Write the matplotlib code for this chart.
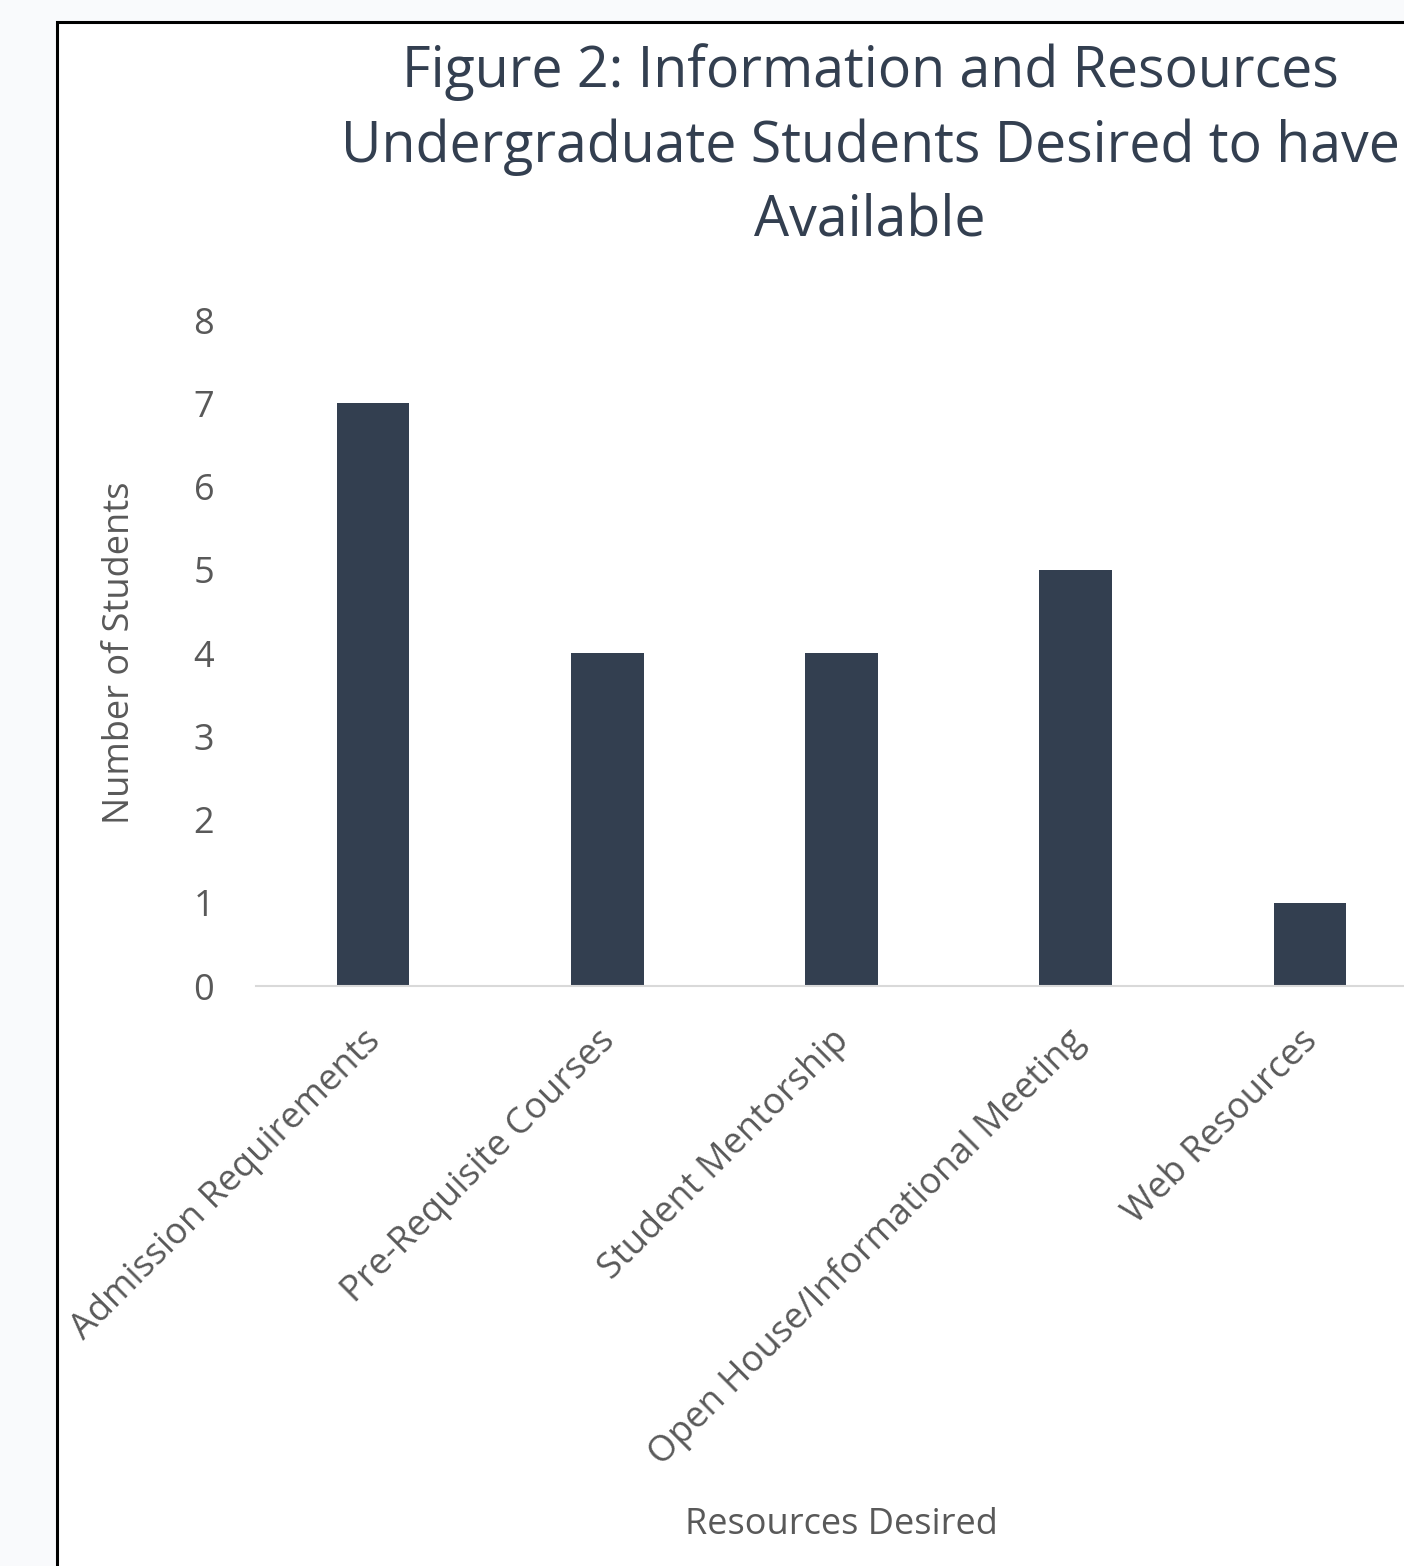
import matplotlib.pyplot as plt
import matplotlib.transforms as mtransforms
from matplotlib.patches import Rectangle

categories = ['Admission Requirements', 'Pre-Requisite Courses', 'Student Mentorship',
              'Open House/Informational Meeting', 'Web Resources']
students = [7, 4, 4, 5, 1]
yticks = [0, 1, 2, 3, 4, 5, 6, 7, 8]

title = 'Figure 2: Information and Resources\nUndergraduate Students Desired to have\nAvailable'

plt.rcParams['font.family'] = ['Open Sans', 'DejaVu Sans']

W, H = 1404, 1566
fig = plt.figure(figsize=(W / 100, H / 100), dpi=100)
fig.patch.set_facecolor('#f9fafc')

# white chart area with black border (cut off at right and bottom)
fig.patches.append(Rectangle((57 / W, -0.05), 1.1, 1 - 22 / H + 0.05, transform=fig.transFigure,
                             facecolor='white', edgecolor='black', linewidth=2.2, zorder=-1))

ax = fig.add_axes([256 / W, 1 - 986 / H, 1171 / W, 666 / H])
ax.set_facecolor('none')
x = range(len(categories))
ax.bar(x, students, width=0.31, color='#333f50', zorder=2)

ax.set_xlim(-0.5, len(categories) - 0.5)
ax.set_ylim(0, 8)
ax.set_yticks(yticks)
ax.set_yticklabels([str(v) for v in yticks], fontsize=26, color='#595959')
ax.set_xticks(list(x))
ax.set_xticklabels(categories, rotation=45, ha='right', rotation_mode='anchor',
                   fontsize=26, color='#595959')
ax.tick_params(axis='both', length=0)
ax.tick_params(axis='y', pad=30)
ax.tick_params(axis='x', pad=18)

# nudge rotated labels a bit down/left like the original
offset = mtransforms.ScaledTranslation(-0.1, -0.12, fig.dpi_scale_trans)
for lab in ax.get_xticklabels():
    lab.set_transform(lab.get_transform() + offset)

for s in ['top', 'right', 'left']:
    ax.spines[s].set_visible(False)
ax.spines['bottom'].set_color('#d9d9d9')
ax.spines['bottom'].set_linewidth(1.5)

ax.set_ylabel('Number of Students', fontsize=26, color='#595959', labelpad=40)
fig.text(841 / W, 1 - 1525 / H, 'Resources Desired', fontsize=26, color='#595959',
         ha='center', va='center')

fig.text(870 / W, 1 - 147 / H, title, fontsize=40, color='#333f50',
         ha='center', va='center', linespacing=1.4)

fig.savefig('out.png', dpi=100, facecolor=fig.get_facecolor())
